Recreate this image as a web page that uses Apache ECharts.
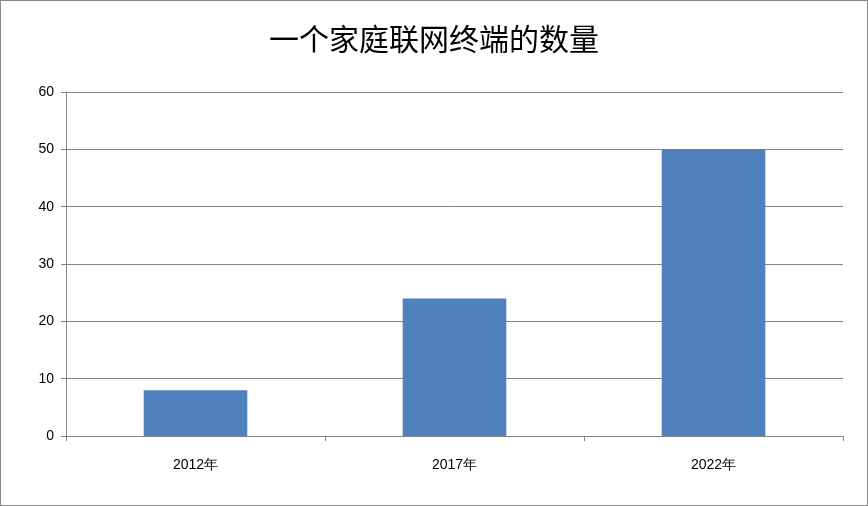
<!DOCTYPE html>
<html><head><meta charset="utf-8">
<script src="https://cdn.jsdelivr.net/npm/echarts@6/dist/echarts.min.js"></script>
<style>html,body{margin:0;padding:0;background:#fff}#c{width:868px;height:506px;box-sizing:border-box;border:1px solid #888}</style>
</head><body><div id="c"></div>
<script>
const categories = ['2012年', '2017年', '2022年'];
const values = [8, 24, 50];
const title = '一个家庭联网终端的数量';
const chart = echarts.init(document.getElementById('c'));
chart.setOption({
  animation: false,
  title: { text: title, left: 'center', top: 18, textStyle: { fontFamily: 'Noto Sans CJK SC', fontWeight: 'normal', fontSize: 30, color: '#000' } },
  grid: { left: 65, right: 24, top: 91, bottom: 69 },
  xAxis: {
    type: 'category', data: categories,
    axisLine: { lineStyle: { color: '#868686' } },
    axisTick: { show: true, alignWithLabel: false, length: 5, lineStyle: { color: '#868686' } },
    axisLabel: { color: '#000', fontSize: 14, margin: 22, fontFamily: 'Liberation Sans' }
  },
  yAxis: {
    type: 'value', min: 0, max: 60, interval: 10,
    axisLine: { show: true, lineStyle: { color: '#868686' } },
    axisTick: { show: true, length: 5, lineStyle: { color: '#868686' } },
    splitLine: { lineStyle: { color: '#868686' } },
    axisLabel: { color: '#000', fontSize: 14, margin: 12, fontFamily: 'Liberation Sans' }
  },
  series: [{ type: 'bar', data: values, barWidth: '40%', itemStyle: { color: '#4F81BD' } }]
});
</script></body></html>
